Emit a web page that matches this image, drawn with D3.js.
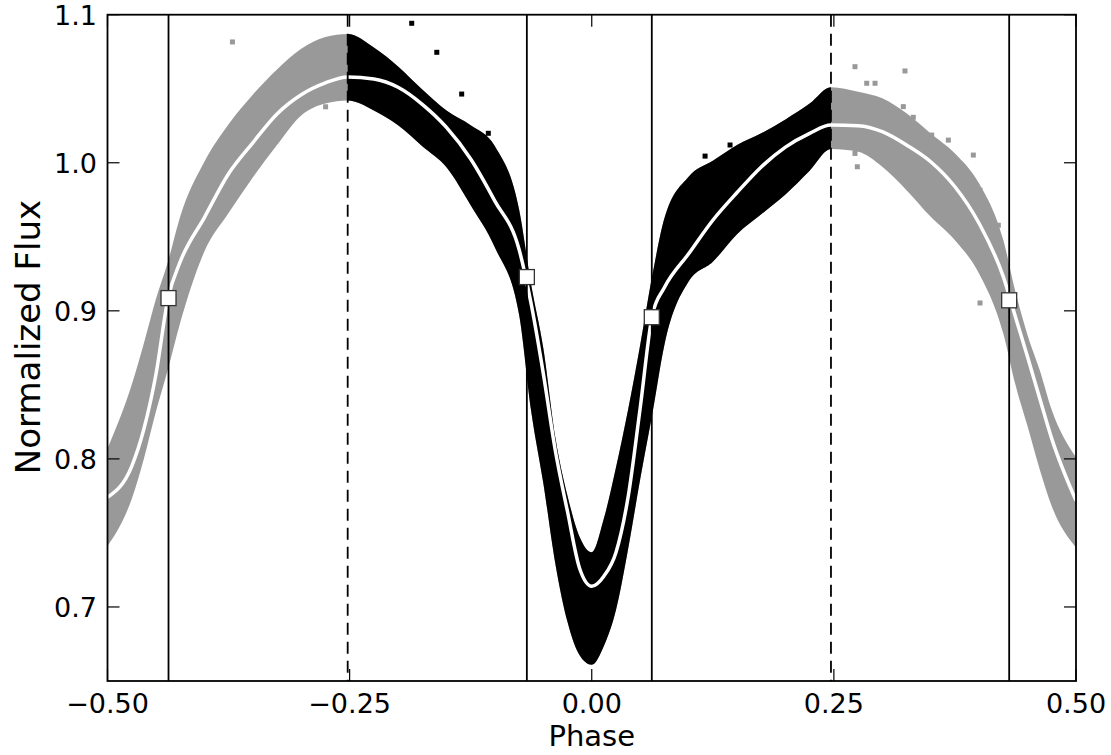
<!DOCTYPE html>
<html><head><meta charset="utf-8">
<script src="https://cdn.jsdelivr.net/npm/d3@7"></script>
<style>
html,body{margin:0;padding:0;background:#fff;}
svg{display:block;}
text{font-family:"DejaVu Sans",sans-serif;fill:#000;}
</style></head>
<body><svg id="c" width="1111" height="755"></svg>
<script>
// ---- data ----
const phase = [-0.5,-0.475,-0.4625,-0.45,-0.4375,-0.425,-0.4,-0.375,-0.35,-0.325,-0.3,-0.275,-0.252,-0.225,-0.2,-0.175,-0.15,-0.125,-0.1,-0.075,-0.0625,-0.05,-0.0375,-0.025,-0.0125,0,0.0125,0.025,0.0375,0.05,0.0625,0.075,0.1,0.125,0.15,0.175,0.2,0.225,0.247,0.275,0.3,0.325,0.35,0.375,0.4,0.425,0.4375,0.45,0.4625,0.475,0.5];
const modelFlux = [0.774,0.795,0.820,0.857,0.9084,0.933,0.963,0.9926,1.0135,1.033,1.046,1.054,1.058,1.0566,1.051,1.0395,1.0239,1.0026,0.9741,0.9414,0.9045,0.8576,0.8052,0.7643,0.726,0.714,0.7208,0.7368,0.7741,0.8343,0.897,0.9157,0.9385,0.9612,0.9799,0.9972,1.0106,1.0199,1.0255,1.025,1.021,1.012,1.0007,0.9838,0.959,0.9229,0.8958,0.8688,0.841,0.8135,0.7718];
const upperFlux = [0.807,0.850,0.878,0.908,0.9334,0.9636,1.0007,1.026,1.046,1.063,1.077,1.085,1.087,1.0779,1.0651,1.0495,1.0353,1.0253,1.0111,0.9684,0.9174,0.8748,0.8141,0.775,0.7473,0.737,0.7597,0.7942,0.8332,0.877,0.9238,0.9625,0.9906,1.0013,1.012,1.0199,1.0293,1.04,1.051,1.048,1.0435,1.0334,1.0198,1.0063,0.986,0.9477,0.9127,0.8835,0.860,0.833,0.8011];
const lowerFlux = [0.741,0.773,0.800,0.832,0.8608,0.8917,0.940,0.966,0.990,1.012,1.032,1.040,1.042,1.0353,1.0253,1.0111,0.9969,0.9713,0.9428,0.8974,0.832,0.7836,0.7289,0.6898,0.6674,0.661,0.6737,0.698,0.739,0.7862,0.8303,0.877,0.9198,0.9331,0.9518,0.9652,0.9786,0.9946,1.0093,1.0074,0.9973,0.9815,0.9635,0.9477,0.9251,0.8846,0.850,0.822,0.793,0.768,0.7402];
// black (in-window) outlying points
const blackOutPhase = [-0.1859,-0.16,-0.1343,-0.1068,0.117,0.1428,0.1118];
const blackOutFlux  = [1.0942,1.0746,1.0464,1.0199,1.0045,1.012,0.9919];
// grey (out-of-window) outlying points
const greyOutPhase = [-0.371,-0.2748,0.2718,0.3234,0.2839,0.2925,0.3217,0.332,0.351,0.3682,0.394,0.4009,0.4198,0.4009,0.2718,0.2742];
const greyOutFlux  = [1.0816,1.0378,1.0649,1.062,1.0537,1.0537,1.0379,1.0307,1.0187,1.0153,1.0052,0.9815,0.9578,0.9053,1.0063,0.9973];
// contact points (squares)
const contactPhase = [-0.437,-0.067,0.062,0.431];
const contactFlux  = [0.9086,0.9228,0.8957,0.9071];
// window boundaries (dashed)
const windowPhase = [-0.252,0.247];
const xTicks = [-0.5,-0.25,0,0.25,0.5];
const xTickLabels = ["\u22120.50","\u22120.25","0.00","0.25","0.50"];
const yTicks = [0.7,0.8,0.9,1.0,1.1];
const yTickLabels = ["0.7","0.8","0.9","1.0","1.1"];

// ---- layout ----
const L=107.5, R=1076, T=14.7, B=681;
const svg = d3.select("#c");
const x = d3.scaleLinear().domain([-0.5,0.5]).range([L,R]);
const y = d3.scaleLinear().domain([0.65,1.1]).range([B,T]);

const defs = svg.append("defs");
defs.append("clipPath").attr("id","plot").append("rect")
  .attr("x",L).attr("y",T).attr("width",R-L).attr("height",B-T);
defs.append("clipPath").attr("id","win").append("rect")
  .attr("x",x(windowPhase[0])).attr("y",T).attr("width",x(windowPhase[1])-x(windowPhase[0])).attr("height",B-T);

const rows = phase.map((p,i)=>({p, m:modelFlux[i], u:upperFlux[i], l:lowerFlux[i]}));
const g = svg.append("g").attr("clip-path","url(#plot)");

const area = d3.area().x(d=>x(d.p)).y0(d=>y(d.l)).y1(d=>y(d.u)).curve(d3.curveMonotoneX);
g.append("path").datum(rows).attr("d",area).attr("fill","#999999");
g.append("g").attr("clip-path","url(#win)")
  .append("path").datum(rows).attr("d",area).attr("fill","#000");

const ps = 5;
g.selectAll("rect.go").data(greyOutPhase.map((p,i)=>[p,greyOutFlux[i]])).enter().append("rect")
  .attr("x",d=>x(d[0])-ps/2).attr("y",d=>y(d[1])-ps/2).attr("width",ps).attr("height",ps).attr("fill","#999999");
g.selectAll("rect.bo").data(blackOutPhase.map((p,i)=>[p,blackOutFlux[i]])).enter().append("rect")
  .attr("x",d=>x(d[0])-ps/2).attr("y",d=>y(d[1])-ps/2).attr("width",ps).attr("height",ps).attr("fill","#000");

const line = d3.line().x(d=>x(d.p)).y(d=>y(d.m)).curve(d3.curveMonotoneX);
g.append("path").datum(rows).attr("d",line).attr("fill","none").attr("stroke","#fff").attr("stroke-width",3.5);

// vertical lines
g.selectAll("line.c").data(contactPhase).enter().append("line")
  .attr("x1",d=>x(d)).attr("x2",d=>x(d)).attr("y1",T).attr("y2",B)
  .attr("stroke","#000").attr("stroke-width",1.8);
g.selectAll("line.w").data(windowPhase).enter().append("line")
  .attr("x1",d=>x(d)).attr("x2",d=>x(d)).attr("y1",T).attr("y2",B)
  .attr("stroke","#000").attr("stroke-width",1.8).attr("stroke-dasharray","12,7");

// squares
const sq = 15;
svg.selectAll("rect.sq").data(contactPhase.map((p,i)=>[p,contactFlux[i]])).enter().append("rect")
  .attr("x",d=>x(d[0])-sq/2).attr("y",d=>y(d[1])-sq/2).attr("width",sq).attr("height",sq)
  .attr("fill","#fff").attr("stroke","#333").attr("stroke-width",1.3);

// frame
svg.append("rect").attr("x",L).attr("y",T).attr("width",R-L).attr("height",B-T)
  .attr("fill","none").attr("stroke","#000").attr("stroke-width",1.8);

// ticks (inward, all sides)
const tl = 12;
const tk = svg.append("g").attr("stroke","#000").attr("stroke-width",1.2);
xTicks.forEach(t=>{
  tk.append("line").attr("x1",x(t)).attr("x2",x(t)).attr("y1",B).attr("y2",B-tl);
  tk.append("line").attr("x1",x(t)).attr("x2",x(t)).attr("y1",T).attr("y2",T+tl);
});
yTicks.forEach(t=>{
  tk.append("line").attr("x1",L).attr("x2",L+tl).attr("y1",y(t)).attr("y2",y(t));
  tk.append("line").attr("x1",R).attr("x2",R-tl).attr("y1",y(t)).attr("y2",y(t));
});

// tick labels
svg.selectAll("text.xt").data(xTicks).enter().append("text")
  .attr("x",d=>x(d)).attr("y",713).attr("text-anchor","middle").attr("font-size",27)
  .text((d,i)=>xTickLabels[i]);
svg.selectAll("text.yt").data(yTicks).enter().append("text")
  .attr("x",97).attr("y",d=>y(d)+10).attr("text-anchor","end").attr("font-size",27)
  .text((d,i)=>yTickLabels[i]);

// axis labels
svg.append("text").attr("x",x(0)).attr("y",746).attr("text-anchor","middle").attr("font-size",29).text("Phase");
svg.append("text").attr("transform","translate(40,337) rotate(-90)").attr("text-anchor","middle").attr("font-size",34).text("Normalized Flux");
</script></body></html>
